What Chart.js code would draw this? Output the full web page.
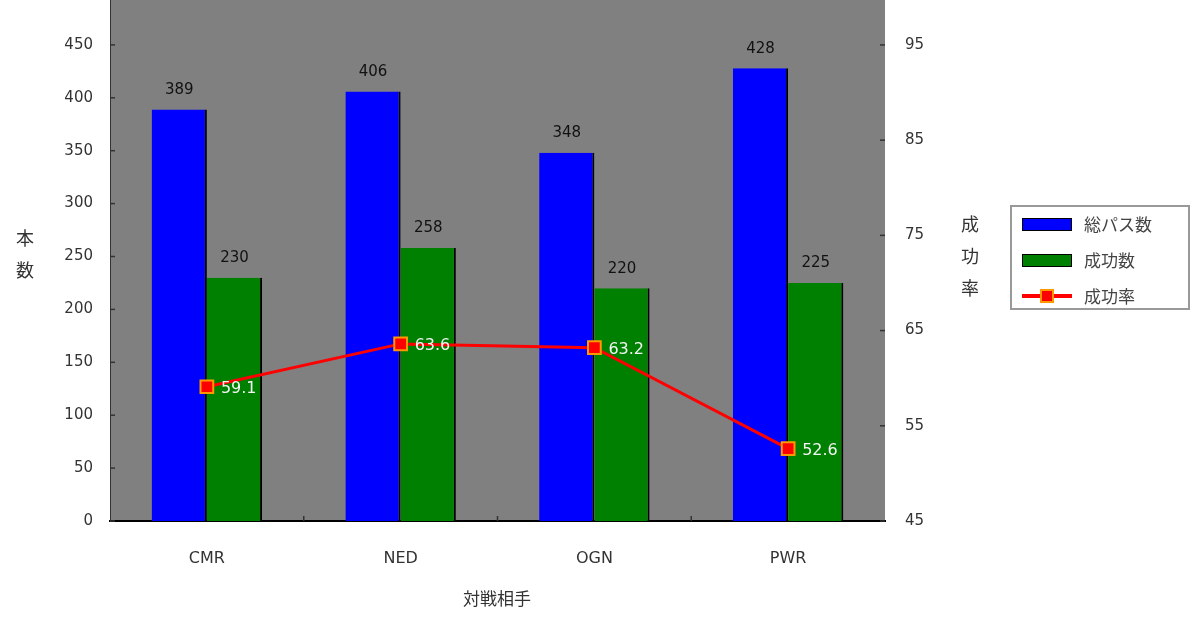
<!DOCTYPE html>
<html><head><meta charset="utf-8">
<script src="https://cdn.jsdelivr.net/npm/chart.js@4.4.0/dist/chart.umd.min.js"></script>
<style>
html,body{margin:0;padding:0;background:#fff;width:1200px;height:628px;overflow:hidden;position:relative;font-family:"Noto Sans CJK JP","DejaVu Sans",sans-serif;}
#wrap{position:absolute;left:0;top:-37px;width:1200px;height:665px;}
.vt{position:absolute;writing-mode:vertical-rl;text-orientation:upright;font-size:18px;color:#333;line-height:1;letter-spacing:14px;}
#xt{position:absolute;left:397px;width:200px;text-align:center;top:585px;font-size:17px;color:#333;}
#legend{position:absolute;left:1010px;top:205px;width:180px;height:105px;border:2px solid #999;box-sizing:border-box;background:#fff;}
.li{position:absolute;left:10px;height:20px;font-size:17px;color:#444;line-height:20px;}
.sw{position:absolute;left:0;top:4px;width:50px;height:13px;}
.li span{position:absolute;left:62px;top:0;white-space:nowrap;}
</style></head>
<body>
<div id="wrap"><canvas id="c" width="1200" height="665"></canvas></div>
<div class="vt" style="left:16px;top:229px;">本数</div>
<div class="vt" style="left:961px;top:215px;">成功率</div>
<div id="xt">対戦相手</div>
<div id="legend">
  <div class="li" style="top:7px;"><div class="sw" style="background:#0000ff;border:1px solid #000;box-sizing:border-box;"></div><span>総パス数</span></div>
  <div class="li" style="top:43px;"><div class="sw" style="background:#008000;border:1px solid #000;box-sizing:border-box;"></div><span>成功数</span></div>
  <div class="li" style="top:79px;"><div class="sw" style="top:8px;height:4px;background:#ff0000;"></div><div class="sw" style="left:18px;top:3px;width:14px;height:14px;background:#ff0000;border:2px solid #ff9900;box-sizing:border-box;"></div><span>成功率</span></div>
</div>
<script>
const categories = ["CMR", "NED", "OGN", "PWR"];
const totalPasses = [389, 406, 348, 428];
const successes = [230, 258, 220, 225];
const successRate = [59.1, 63.6, 63.2, 52.6];
const leftTicks = [0, 50, 100, 150, 200, 250, 300, 350, 400, 450, 500];
const rightTicks = [45, 55, 65, 75, 85, 95];

const bgPlugin = {
  id: 'bg',
  beforeDraw(chart) {
    const {ctx, chartArea: a} = chart;
    ctx.save();
    ctx.fillStyle = '#808080';
    ctx.fillRect(a.left, a.top, a.right - a.left, a.bottom - a.top);
    ctx.restore();
  },
  afterDraw(chart) {
    const {ctx, chartArea: a} = chart;
    ctx.save();
    ctx.strokeStyle = '#333';
    ctx.lineWidth = 1.5;
    const y = chart.scales.y, y1 = chart.scales.y1, x = chart.scales.x;
    leftTicks.forEach(v => { const p = y.getPixelForValue(v); ctx.beginPath(); ctx.moveTo(a.left, p); ctx.lineTo(a.left + 5, p); ctx.stroke(); });
    rightTicks.forEach(v => { const p = y1.getPixelForValue(v); ctx.beginPath(); ctx.moveTo(a.right, p); ctx.lineTo(a.right - 5, p); ctx.stroke(); });
    for (let i = 1; i < categories.length; i++) {
      const p = (x.getPixelForValue(i - 1) + x.getPixelForValue(i)) / 2;
      ctx.beginPath(); ctx.moveTo(p, a.bottom); ctx.lineTo(p, a.bottom - 5); ctx.stroke();
    }
    ctx.restore();
  }
};

const labelPlugin = {
  id: 'labels',
  afterDatasetsDraw(chart) {
    const {ctx} = chart;
    ctx.save();
    ctx.font = '15px "DejaVu Sans", sans-serif';
    [0, 1].forEach(di => {
      const meta = chart.getDatasetMeta(di);
      meta.data.forEach((el, i) => {
        ctx.fillStyle = '#111';
        ctx.textAlign = 'center';
        ctx.textBaseline = 'bottom';
        ctx.fillText(String(chart.data.datasets[di].data[i]), el.x, el.y - 12);
      });
    });
    const lm = chart.getDatasetMeta(2);
    ctx.font = '16px "DejaVu Sans", sans-serif';
    lm.data.forEach((el, i) => {
      ctx.fillStyle = '#f4f4f4';
      ctx.textAlign = 'left';
      ctx.textBaseline = 'middle';
      ctx.fillText(successRate[i].toFixed(1), el.x + 14, el.y + 2);
    });
    ctx.restore();
  }
};

new Chart(document.getElementById('c'), {
  data: {
    labels: categories,
    datasets: [
      { type: 'bar', label: '総パス数', data: totalPasses, backgroundColor: '#0000ff', borderColor: '#000', borderWidth: {right: 2, top: 0, left: 0, bottom: 0}, borderSkipped: false, yAxisID: 'y', order: 2, categoryPercentage: 0.57, barPercentage: 1.0 },
      { type: 'bar', label: '成功数', data: successes, backgroundColor: '#008000', borderColor: '#000', borderWidth: {right: 2, top: 0, left: 0, bottom: 0}, borderSkipped: false, yAxisID: 'y', order: 2, categoryPercentage: 0.57, barPercentage: 1.0 },
      { type: 'line', label: '成功率', data: successRate, borderColor: '#ff0000', borderWidth: 3, pointStyle: 'rect', pointRadius: 9, pointBackgroundColor: '#ff0000', pointBorderColor: '#ff9900', pointBorderWidth: 2, yAxisID: 'y1', order: 1, tension: 0 }
    ]
  },
  options: {
    responsive: false,
    animation: false,
    layout: { padding: { top: 17, left: 0, right: 0, bottom: 0 } },
    plugins: { legend: { display: false }, tooltip: { enabled: false } },
    scales: {
      x: {
        grid: { display: false, drawTicks: false },
        border: { display: true, color: '#000', width: 2 },
        ticks: { color: '#333', font: { size: 16, family: '"DejaVu Sans", sans-serif' }, padding: 28 },
        afterFit(s) { s.height = 107; }
      },
      y: {
        position: 'left', min: 0, max: 500,
        grid: { display: false, drawTicks: false },
        border: { display: true, color: '#333', width: 1 },
        ticks: { stepSize: 50, color: '#333', font: { size: 15, family: '"DejaVu Sans", sans-serif' }, padding: 17 },
        afterBuildTicks(s) { s.ticks = leftTicks.map(v => ({ value: v })); },
        afterFit(s) { s.width = 110; }
      },
      y1: {
        position: 'right', min: 45, max: 100.56,
        grid: { display: false, drawTicks: false },
        border: { display: false },
        ticks: { color: '#333', font: { size: 15, family: '"DejaVu Sans", sans-serif' }, padding: 20 },
        afterBuildTicks(s) { s.ticks = rightTicks.map(v => ({ value: v })); },
        afterFit(s) { s.width = 315; }
      }
    }
  },
  plugins: [bgPlugin, labelPlugin]
});
</script>
</body></html>
